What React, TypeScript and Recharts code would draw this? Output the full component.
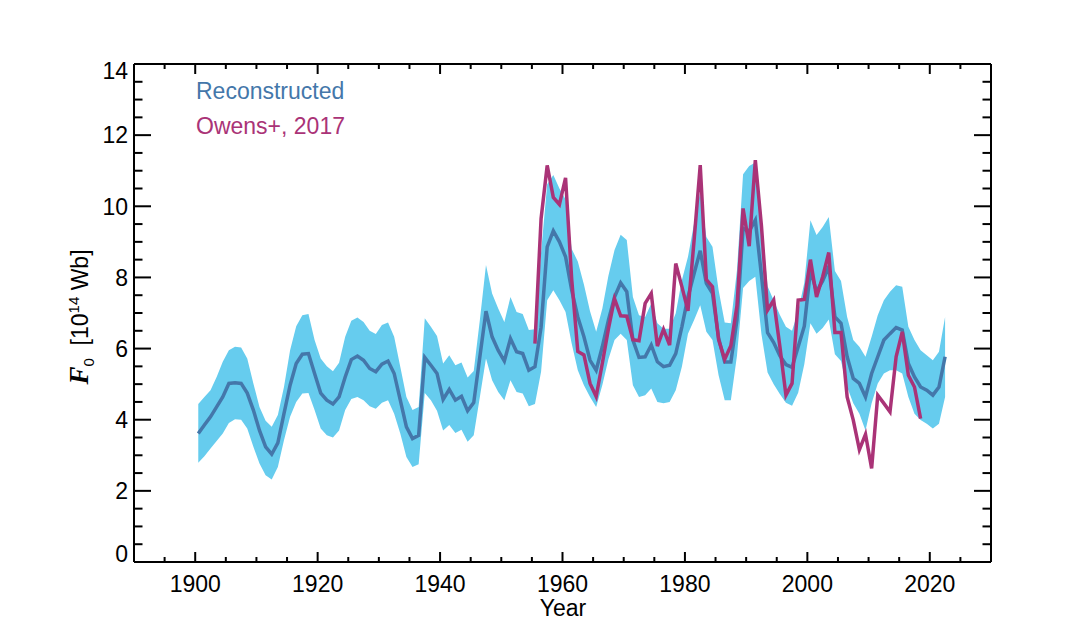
import React from "react";
import {
  ComposedChart,
  Area,
  Line,
  XAxis,
  YAxis,
  ReferenceLine,
  Customized,
} from "recharts";

// yearly values, plotted at mid-year
const YEARS = [
  1900, 1901, 1902, 1903, 1904, 1905, 1906, 1907, 1908, 1909,
  1910, 1911, 1912, 1913, 1914, 1915, 1916, 1917, 1918, 1919,
  1920, 1921, 1922, 1923, 1924, 1925, 1926, 1927, 1928, 1929,
  1930, 1931, 1932, 1933, 1934, 1935, 1936, 1937, 1938, 1939,
  1940, 1941, 1942, 1943, 1944, 1945, 1946, 1947, 1948, 1949,
  1950, 1951, 1952, 1953, 1954, 1955, 1956, 1957, 1958, 1959,
  1960, 1961, 1962, 1963, 1964, 1965, 1966, 1967, 1968, 1969,
  1970, 1971, 1972, 1973, 1974, 1975, 1976, 1977, 1978, 1979,
  1980, 1981, 1982, 1983, 1984, 1985, 1986, 1987, 1988, 1989,
  1990, 1991, 1992, 1993, 1994, 1995, 1996, 1997, 1998, 1999,
  2000, 2001, 2002, 2003, 2004, 2005, 2006, 2007, 2008, 2009,
  2010, 2011, 2012, 2013, 2014, 2015, 2016, 2017, 2018, 2019,
  2020, 2021, 2022,
];

const RECON = [
  3.61, 3.85, 4.08, 4.36, 4.64, 5.02, 5.04, 5.02, 4.75, 4.27,
  3.7, 3.24, 3.03, 3.35, 4.17, 4.97, 5.58, 5.84, 5.86, 5.3,
  4.75, 4.55, 4.44, 4.64, 5.2, 5.69, 5.79, 5.67, 5.44, 5.35,
  5.56, 5.65, 5.3, 4.55, 3.8, 3.47, 3.56, 5.75, 5.53, 5.3,
  4.57, 4.85, 4.55, 4.66, 4.25, 4.48, 5.77, 7.05, 6.33, 5.95,
  5.65, 6.28, 5.91, 5.86, 5.39, 5.49, 6.6, 8.86, 9.31, 9.0,
  8.58, 7.64, 6.89, 6.33, 5.67, 5.39, 6.05, 6.8, 7.45, 7.85,
  7.6, 6.24, 5.75, 5.77, 6.1, 5.63, 5.49, 5.53, 5.86, 6.61,
  7.45, 8.11, 8.75, 7.83, 7.55, 6.3, 5.62, 5.62, 6.8, 9.38,
  9.3, 9.61, 8.06, 6.45, 6.17, 5.8, 5.55, 5.47, 6.05, 6.63,
  8.2, 7.6, 7.9, 8.3, 6.89, 6.71, 5.77, 5.16, 5.02, 4.64,
  5.3, 5.77, 6.24, 6.42, 6.59, 6.52, 5.58, 5.2, 4.92, 4.83,
  4.69, 4.92, 5.77,
];

const RECON_HI = [
  4.44, 4.64, 4.83, 5.2, 5.63, 5.95, 6.05, 6.03, 5.72, 5.02,
  4.36, 3.97, 3.8, 4.13, 4.92, 5.95, 6.63, 6.94, 6.97, 6.24,
  5.72, 5.5, 5.36, 5.6, 6.33, 6.78, 6.87, 6.75, 6.5, 6.41,
  6.66, 6.73, 6.33, 5.49, 4.64, 4.27, 4.36, 6.85, 6.61, 6.35,
  5.58, 5.81, 5.53, 5.61, 5.19, 5.37, 6.8, 8.35, 7.55, 7.13,
  6.75, 7.45, 7.03, 6.97, 6.52, 6.54, 8.7, 10.62, 10.88, 10.5,
  10.2, 8.8, 8.45, 7.8, 7.05, 6.47, 7.12, 8.05, 8.77, 9.2,
  9.05, 7.45, 6.94, 6.89, 7.27, 6.71, 6.56, 6.56, 6.99, 7.92,
  8.58, 9.52, 10.41, 9.14, 8.86, 7.65, 6.73, 6.71, 8.2, 10.9,
  11.13, 11.23, 9.6, 7.75, 7.35, 6.95, 6.61, 6.5, 7.05, 7.85,
  9.61, 9.19, 9.42, 9.7, 8.18, 7.9, 6.89, 6.24, 6.05, 5.77,
  6.33, 6.94, 7.36, 7.6, 7.78, 7.74, 6.61, 6.24, 5.95, 5.81,
  5.67, 5.91, 6.89,
];

const RECON_LO = [
  2.79, 2.97, 3.19, 3.4, 3.61, 3.91, 4.01, 4.0, 3.75, 3.24,
  2.77, 2.44, 2.32, 2.67, 3.42, 4.08, 4.5, 4.74, 4.75, 4.27,
  3.75, 3.56, 3.5, 3.7, 4.27, 4.58, 4.64, 4.55, 4.38, 4.31,
  4.48, 4.55, 4.17, 3.61, 2.95, 2.67, 2.75, 4.75, 4.55, 4.25,
  3.7, 3.85, 3.63, 3.72, 3.38, 3.56, 4.64, 5.72, 5.11, 4.78,
  4.55, 5.11, 4.78, 4.74, 4.38, 4.44, 5.35, 7.36, 7.64, 7.36,
  7.03, 6.14, 5.39, 4.97, 4.64, 4.36, 4.97, 5.7, 6.24, 6.42,
  6.24, 4.97, 4.64, 4.69, 4.88, 4.5, 4.46, 4.5, 4.83, 5.49,
  6.42, 6.8, 7.22, 6.47, 6.24, 5.25, 4.55, 4.55, 5.8, 7.7,
  7.9, 8.02, 6.4, 5.33, 5.0, 4.72, 4.48, 4.39, 4.76, 5.56,
  6.71, 6.42, 6.58, 6.82, 5.84, 5.65, 4.92, 4.46, 4.17, 3.7,
  4.46, 5.02, 5.3, 5.39, 5.39, 5.3, 4.64, 4.17, 3.99, 3.89,
  3.75, 3.89, 4.64,
];

// Owens+, 2017 (1955-2018)
const OWENS_YEARS = [
  1955, 1956, 1957, 1958, 1959, 1960, 1961, 1962, 1963, 1964,
  1965, 1966, 1967, 1968, 1969, 1970, 1971, 1972, 1973, 1974,
  1975, 1976, 1977, 1978, 1979, 1980, 1981, 1982, 1983, 1984,
  1985, 1986, 1987, 1988, 1989, 1990, 1991, 1992, 1993, 1994,
  1995, 1996, 1997, 1998, 1999, 2000, 2001, 2002, 2003, 2004,
  2005, 2006, 2007, 2008, 2009, 2010, 2011, 2012, 2013, 2014,
  2015, 2016, 2017, 2018,
];

const OWENS = [
  6.14, 9.65, 11.15, 10.25, 10.05, 10.8, 7.95, 5.92, 5.82, 5.02,
  4.65, 5.58, 6.55, 7.4, 6.92, 6.91, 6.25, 6.22, 7.27, 7.55,
  6.07, 6.54, 6.1, 8.39, 7.74, 7.06, 9.05, 11.16, 7.94, 7.74,
  6.25, 5.7, 6.08, 7.2, 9.94, 8.88, 11.3, 9.45, 7.08, 7.36,
  6.07, 4.69, 5.02, 7.36, 7.38, 8.5, 7.45, 8.02, 8.7, 6.45,
  6.45, 4.64, 3.99, 3.16, 3.59, 2.63, 4.69, 4.46, 4.22, 5.77,
  6.47, 5.25, 4.92, 4.03,
];

const X_LABELS = [1900, 1920, 1940, 1960, 1980, 2000, 2020];
const Y_LABELS = [0, 2, 4, 6, 8, 10, 12, 14];
const X_TICKS = Array.from({ length: 29 }, (_, i) => 1890 + i * 5);
const Y_TICKS = Array.from({ length: 29 }, (_, i) => i * 0.5);

const W = 1070;
const H = 642;
const LEFT = 134;
const RIGHT = 991;
const TOP = 64;
const BOTTOM = 562;
const Y_AXIS_W = 60;
const X_AXIS_H = 40;
const FONT = "'Liberation Sans', Arial, Helvetica, sans-serif";

const BAND = "#66CCEE";
const BLUE = "#4477AA";
const PURPLE = "#AA3377";

const owensByYear = new Map(OWENS_YEARS.map((y, i) => [y, OWENS[i]]));

const data = YEARS.map((year, i) => ({
  x: year + 0.5,
  band: [RECON_LO[i], RECON_HI[i]],
  recon: RECON[i],
  owens: owensByYear.has(year) ? owensByYear.get(year) : null,
}));

function XTick(props: any) {
  const { x, payload } = props;
  const v = payload.value;
  const major = X_LABELS.includes(v);
  const len = major ? 10 : 5;
  return (
    <g>
      <line x1={x} x2={x} y1={BOTTOM} y2={BOTTOM - len} stroke="#000" strokeWidth={2} />
      <line x1={x} x2={x} y1={TOP} y2={TOP + len} stroke="#000" strokeWidth={2} />
      {major && (
        <text x={x} y={592} textAnchor="middle" fontFamily={FONT} fontSize={23} fill="#000">
          {v}
        </text>
      )}
    </g>
  );
}

function YTick(props: any) {
  const { y, payload } = props;
  const v = payload.value;
  const major = Y_LABELS.includes(v);
  const len = major ? 17 : 8.5;
  // end labels are kept inside the frame
  const cy = v === 0 ? y - 8 : v === 14 ? y + 7 : y;
  return (
    <g>
      <line x1={LEFT} x2={LEFT + len} y1={y} y2={y} stroke="#000" strokeWidth={2} />
      <line x1={RIGHT} x2={RIGHT - len} y1={y} y2={y} stroke="#000" strokeWidth={2} />
      {major && (
        <text x={128} y={cy} dy="0.36em" textAnchor="end" fontFamily={FONT} fontSize={23} fill="#000">
          {v}
        </text>
      )}
    </g>
  );
}

function Titles() {
  return (
    <g>
      <text x={563} y={616} textAnchor="middle" fontFamily={FONT} fontSize={23} fill="#000">
        Year
      </text>
      <text
        transform="translate(88,317) rotate(-90)"
        textAnchor="middle"
        fontFamily={FONT}
        fontSize={23}
        fill="#000"
      >
        <tspan fontFamily="'Liberation Serif', 'Times New Roman', serif" fontWeight="bold" fontStyle="italic" fontSize={27}>
          F
        </tspan>
        <tspan dy={6} fontSize={15}>0</tspan>
        <tspan dy={-6}>{"\u00a0\u00a0[10"}</tspan>
        <tspan dy={-9} fontSize={15}>14</tspan>
        <tspan dy={9}>{"\u00a0Wb]"}</tspan>
      </text>
      <text x={196} y={99} fontFamily={FONT} fontSize={23} fill={BLUE}>
        Reconstructed
      </text>
      <text x={196} y={134} fontFamily={FONT} fontSize={23} fill={PURPLE}>
        Owens+, 2017
      </text>
    </g>
  );
}

export default function App() {
  return (
    <div style={{ position: "absolute", left: 0, top: 0, width: W, height: H, background: "#fff" }}>
      <ComposedChart
        width={W}
        height={H}
        data={data}
        margin={{
          top: TOP,
          right: W - RIGHT,
          bottom: H - BOTTOM - X_AXIS_H,
          left: LEFT - Y_AXIS_W,
        }}
      >
        <XAxis
          dataKey="x"
          type="number"
          domain={[1890, 2030]}
          ticks={X_TICKS}
          interval={0}
          height={X_AXIS_H}
          tickLine={false}
          tickSize={0}
          axisLine={{ stroke: "#000", strokeWidth: 2 }}
          tick={(p: any) => <XTick {...p} />}
          allowDataOverflow
        />
        <YAxis
          type="number"
          domain={[0, 14]}
          ticks={Y_TICKS}
          interval={0}
          width={Y_AXIS_W}
          tickLine={false}
          tickSize={0}
          axisLine={{ stroke: "#000", strokeWidth: 2 }}
          tick={(p: any) => <YTick {...p} />}
          allowDataOverflow
        />
        <Area
          dataKey="band"
          type="linear"
          stroke="none"
          fill={BAND}
          fillOpacity={1}
          isAnimationActive={false}
        />
        <Line
          dataKey="recon"
          type="linear"
          stroke={BLUE}
          strokeWidth={3.5}
          dot={false}
          activeDot={false}
          isAnimationActive={false}
        />
        <Line
          dataKey="owens"
          type="linear"
          stroke={PURPLE}
          strokeWidth={3.5}
          dot={false}
          activeDot={false}
          isAnimationActive={false}
        />
        <ReferenceLine y={14} stroke="#000" strokeWidth={2} ifOverflow="visible" />
        <ReferenceLine x={2030} stroke="#000" strokeWidth={2} ifOverflow="visible" />
        <Customized component={Titles} />
      </ComposedChart>
    </div>
  );
}
